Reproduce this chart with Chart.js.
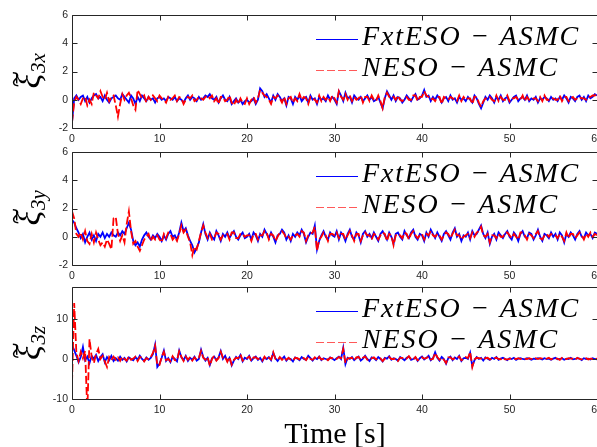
<!DOCTYPE html>
<html>
<head>
<meta charset="utf-8">
<script src="https://cdn.jsdelivr.net/npm/chart.js@4/dist/chart.umd.min.js"></script>
<style>
html,body{margin:0;padding:0;background:#fff;overflow:hidden;width:597px;height:447px;}
canvas{position:absolute;left:0;}
</style>
</head>
<body>
<canvas id="cx" style="top:0px"></canvas>
<canvas id="cy" style="top:140px"></canvas>
<canvas id="cz" style="top:275px"></canvas>
<script>
// ---------- DATA (sampled every 0.25 s, t = 0 … 60 s) ----------
const sampleStep = 0.25;
const xTickValues = [0, 10, 20, 30, 40, 50, 60];
const yTicksXY = [-2, 0, 2, 4, 6];
const yTicksZ = [-10, 0, 10];
const legendLabels = ['FxtESO − ASMC', 'NESO − ASMC'];
const xLabel = 'Time [s]';

const xiX_FxtESO = [
-1.6,0.1,0.3,0.0,0.2,0.3,-0.1,0.2,-0.2,0.1,0.3,0.4,0.1,0.2,-0.1,0.3,0.0,-0.2,0.1,0.2,
0.3,0.1,0.0,0.4,0.2,0.0,-0.2,0.3,0.1,-0.3,0.2,-0.1,0.3,0.1,-0.1,0.2,0.0,0.1,-0.2,0.1,
0.2,0.0,0.1,-0.1,0.2,0.1,0.0,0.2,-0.1,0.1,0.0,-0.2,0.1,0.3,0.0,0.2,0.1,-0.1,0.2,0.0,
0.1,0.3,0.2,0.4,0.1,0.0,0.2,-0.2,0.1,0.3,0.0,-0.1,0.2,-0.3,-0.1,0.1,-0.2,0.0,-0.3,-0.1,
0.0,-0.2,-0.1,0.1,-0.3,0.0,0.8,0.6,0.2,0.4,0.1,-0.2,0.3,0.0,0.4,0.2,-0.1,0.1,-0.4,0.2,
0.1,-0.3,0.2,0.0,0.3,-0.1,0.1,0.2,-0.2,0.3,0.0,0.1,-0.3,0.2,0.0,0.1,-0.1,0.3,0.0,0.2,
0.0,-0.3,0.6,0.3,-0.1,0.5,0.1,0.2,-0.2,0.3,0.1,0.0,0.2,-0.1,0.1,0.3,0.0,0.2,-0.1,0.0,
0.2,-0.2,-0.6,0.1,0.6,0.3,0.0,0.3,-0.1,0.2,0.1,-0.2,0.0,0.3,0.1,-0.1,0.2,0.4,0.0,0.1,
0.3,0.7,0.2,0.3,-0.1,0.2,0.0,0.3,0.1,-0.2,0.1,0.2,-0.1,0.3,0.0,0.1,-0.2,0.2,0.0,0.1,
-0.1,0.2,0.0,-0.2,0.3,0.1,-0.3,-0.6,-0.2,0.2,0.0,0.3,0.1,-0.2,0.2,0.0,0.3,-0.1,0.1,0.2,
-0.2,0.0,0.2,0.3,-0.1,0.1,0.2,0.0,0.3,-0.1,0.1,0.0,0.2,-0.2,0.1,0.0,0.2,0.1,-0.1,0.2,
0.0,0.1,-0.1,0.2,0.0,0.3,0.1,-0.2,0.2,0.1,-0.1,0.2,0.3,0.0,0.2,-0.1,0.3,0.1,0.2,0.4,
0.3];
const xiX_NESO = [
-1.6,-0.2,0.2,0.0,-0.3,0.1,0.2,-0.4,0.0,-0.3,0.5,0.3,0.1,0.6,0.2,0.0,0.5,-0.1,0.2,0.3,
-0.4,-1.2,-0.3,0.4,0.0,0.3,0.5,0.1,-0.4,-0.7,0.7,0.4,0.1,0.3,-0.2,0.2,0.0,0.3,0.1,-0.1,
0.3,0.1,0.0,-0.2,0.2,0.0,0.1,0.3,-0.1,0.2,0.1,-0.3,0.0,0.2,0.1,0.3,-0.1,0.0,0.2,0.1,
0.0,0.2,0.3,0.1,0.3,-0.1,0.1,-0.3,0.2,0.2,-0.1,0.0,0.3,-0.2,-0.4,0.0,-0.3,0.1,-0.2,-0.3,
0.1,-0.3,0.0,0.2,-0.2,0.1,0.7,0.5,0.3,0.2,0.0,-0.3,0.2,0.1,0.3,0.1,-0.2,0.2,-0.3,0.1,
0.2,-0.2,0.1,-0.1,0.4,0.0,0.2,0.1,-0.3,0.2,0.1,0.0,-0.2,0.3,-0.1,0.2,0.0,0.2,-0.1,0.3,
0.1,-0.2,0.6,0.2,0.0,0.4,0.0,0.3,-0.1,0.2,0.0,0.1,0.3,-0.2,0.2,0.2,-0.1,0.3,0.0,-0.1,
0.3,-0.1,-0.6,0.2,0.5,0.2,0.1,0.2,0.0,0.3,0.0,-0.1,0.1,0.2,0.0,0.0,0.3,0.3,-0.1,0.2,
0.2,0.6,0.3,0.2,0.0,0.1,-0.1,0.2,0.2,-0.3,0.2,0.1,0.0,0.2,0.1,0.0,-0.1,0.3,-0.1,0.2,
0.0,0.1,0.1,-0.3,0.2,0.2,-0.2,-0.5,-0.1,0.1,0.1,0.2,0.0,-0.1,0.3,-0.1,0.2,0.0,0.0,0.3,
-0.1,0.1,0.1,0.2,0.0,0.0,0.3,-0.1,0.2,0.0,0.0,0.1,0.1,-0.1,0.2,-0.1,0.3,0.0,0.0,0.1,
0.1,0.0,0.0,0.3,-0.1,0.2,0.2,-0.1,0.1,0.2,0.0,0.1,0.2,0.1,0.1,0.0,0.2,0.2,0.3,0.3,
0.4];

const xiY_FxtESO = [
1.2,1.0,0.6,0.3,-0.1,0.2,-0.4,0.0,0.3,-0.2,0.1,-0.3,0.2,0.0,0.3,-0.1,0.2,0.0,0.3,0.1,
0.0,0.3,0.1,0.4,0.2,0.6,1.0,0.5,-0.3,-0.6,-0.4,-0.7,-0.2,0.1,0.3,0.0,-0.2,0.1,-0.1,0.2,
0.0,-0.3,0.1,-0.2,0.2,0.4,0.0,0.1,-0.2,0.3,1.0,0.4,0.6,0.1,-0.3,-0.6,-1.1,-0.8,-0.4,0.3,
0.9,0.2,-0.2,0.3,0.0,-0.2,0.4,0.1,-0.3,0.2,0.0,0.3,-0.1,0.2,0.4,0.0,-0.2,0.1,0.3,-0.1,
0.0,0.2,-0.2,0.3,0.1,-0.3,0.2,0.0,0.5,0.2,-0.1,0.3,0.0,-0.4,0.1,0.2,0.5,0.3,-0.2,0.1,
-0.3,0.2,0.0,0.3,0.1,0.5,0.2,-0.4,0.0,0.3,0.2,0.8,-0.9,-0.3,0.1,0.4,0.0,-0.2,0.3,0.1,
0.0,0.4,-0.2,0.3,0.1,-0.3,0.2,0.5,0.0,-0.2,0.3,0.1,-0.4,0.2,0.4,0.0,0.2,-0.1,0.3,0.0,
-0.3,0.2,0.4,0.1,-0.2,0.3,0.0,-0.5,0.2,0.3,0.0,-0.2,0.4,0.1,-0.1,0.3,0.5,0.0,-0.2,0.2,
0.1,-0.3,0.3,0.0,0.5,0.2,-0.1,0.3,0.0,-0.3,0.2,0.4,0.1,-0.2,0.3,0.6,0.0,0.2,-0.3,0.1,
0.0,0.3,-0.2,0.4,0.1,0.2,0.5,0.8,0.2,-0.1,0.3,-0.5,0.0,0.2,-0.2,0.3,0.1,-0.1,0.2,0.4,
0.0,-0.2,0.3,0.1,-0.3,0.2,0.4,0.0,-0.1,0.3,0.2,-0.2,0.1,0.5,0.0,-0.3,0.2,0.1,-0.1,0.3,
0.0,0.2,-0.2,0.3,0.1,-0.4,0.2,0.0,0.3,0.1,-0.2,0.2,0.4,0.0,-0.1,0.3,0.1,0.2,-0.1,0.3,
0.2];
const xiY_NESO = [
1.8,1.3,0.2,0.0,0.3,-0.2,0.4,-0.3,-0.5,0.2,-0.4,0.3,-0.2,-0.6,-0.4,-0.7,-0.2,-0.5,-0.9,1.3,
1.4,0.2,-0.3,0.1,-0.4,0.9,1.8,0.4,-0.5,-0.3,-0.7,-1.0,-0.6,-0.2,0.0,0.2,-0.3,0.0,-0.2,0.1,
-0.2,-0.4,0.2,-0.1,0.3,0.2,-0.2,0.0,-0.3,0.2,0.8,0.3,0.5,0.0,-0.4,-1.3,-0.7,-0.9,-0.3,0.3,
0.8,0.3,-0.1,0.2,-0.2,-0.1,0.3,0.2,-0.2,0.1,0.1,0.2,-0.2,0.3,0.3,-0.1,-0.1,0.2,0.2,0.0,
0.1,0.1,-0.3,0.2,0.2,-0.2,0.1,0.1,0.4,0.3,-0.2,0.2,0.1,-0.3,0.0,0.3,0.4,0.2,-0.1,0.0,
-0.2,0.1,0.1,0.2,0.0,0.4,0.3,-0.3,0.1,0.2,0.3,0.7,-1.0,-0.2,0.0,0.3,0.1,-0.3,0.2,0.2,
0.1,0.3,-0.1,0.2,0.2,-0.2,0.1,0.4,0.1,-0.3,0.2,0.2,-0.3,0.1,0.3,0.1,0.1,-0.2,0.2,0.1,
-0.2,0.1,0.3,0.2,-0.3,0.2,0.1,-0.6,0.1,0.2,0.1,-0.1,0.3,0.2,-0.2,0.2,0.4,0.1,-0.1,0.1,
0.2,-0.2,0.2,0.1,0.4,0.1,0.0,0.2,0.1,-0.2,0.1,0.3,0.2,-0.1,0.2,0.5,0.1,0.1,-0.2,0.0,
0.1,0.2,-0.1,0.3,0.0,0.3,0.4,0.7,0.1,0.0,0.2,-0.4,0.1,0.1,-0.1,0.2,0.0,0.0,0.3,0.3,
0.1,-0.1,0.2,0.0,-0.2,0.3,0.3,0.1,-0.2,0.2,0.1,-0.1,0.2,0.4,-0.1,-0.2,0.1,0.2,0.0,0.2,
0.1,0.1,-0.1,0.2,0.0,-0.3,0.3,-0.1,0.2,0.2,-0.1,0.1,0.3,0.1,-0.2,0.2,0.0,0.3,0.0,0.2,
0.1];

const xiZ_FxtESO = [
3.5,2.2,0.8,-0.8,0.5,3.0,-0.3,0.6,-1.0,0.8,0.0,1.0,-0.5,0.5,1.2,-0.8,0.5,-0.3,0.8,-0.5,
0.2,-0.4,0.6,-0.2,0.3,-0.6,0.4,0.0,-0.3,0.5,-0.2,0.8,0.0,-0.5,0.4,-0.2,0.3,1.2,3.6,-2.0,
-1.2,0.3,2.1,-0.5,0.2,-0.8,0.5,0.0,-0.6,2.1,0.4,-0.3,0.8,-0.5,0.3,-0.2,0.6,-0.4,0.0,2.3,
0.5,-0.4,0.3,-1.5,0.2,0.6,-0.3,0.4,2.0,0.0,0.8,-0.5,0.3,-1.6,-0.4,0.5,0.0,1.0,-0.6,0.3,
0.0,0.8,-0.4,0.2,0.6,-0.2,0.3,-0.6,0.4,0.0,0.5,-0.3,1.5,0.2,-0.5,0.3,0.0,0.6,-0.4,0.2,
0.0,-0.6,0.4,0.1,-0.3,0.5,0.0,-0.2,0.8,0.2,-0.4,0.3,0.0,0.6,-0.3,0.2,0.0,-0.2,0.4,0.1,
-0.3,0.2,0.6,0.0,2.8,-1.3,0.3,0.0,0.5,-0.3,0.2,0.6,-0.4,0.1,0.8,0.0,-0.5,0.4,0.2,-0.3,
0.5,0.0,-0.6,0.3,0.1,0.7,-0.2,0.2,0.0,-0.4,0.5,0.1,-0.3,0.3,0.6,-0.2,0.0,0.4,-0.5,0.2,
0.6,-0.1,0.3,0.8,-0.3,0.2,1.7,0.3,-0.4,0.5,0.0,-1.2,0.2,0.6,-0.3,0.4,0.0,0.8,-0.5,0.2,
0.3,0.0,1.6,-1.8,-0.3,0.5,0.0,0.3,-0.4,0.4,0.1,-0.2,0.3,0.0,0.5,-0.2,0.1,0.3,0.0,-0.3,
0.2,0.0,0.3,-0.2,0.1,0.2,0.0,-0.1,0.2,0.1,-0.2,0.1,0.0,0.2,0.1,-0.1,0.2,0.0,0.1,-0.2,
0.1,0.3,-0.1,0.0,0.2,-0.2,0.1,0.0,0.3,-0.1,0.0,0.2,0.1,-0.3,0.2,0.0,0.1,-0.1,0.2,0.0,
-0.1];
const xiZ_NESO = [
-6.0,14.0,1.5,-0.5,1.8,0.2,2.0,-13.0,5.0,0.5,-1.0,1.2,2.5,0.0,0.8,-0.6,-2.0,0.5,-0.3,0.6,
-0.2,0.4,-0.5,0.6,0.0,-0.4,0.7,-0.2,0.1,0.6,-0.5,0.5,0.3,-0.6,0.2,0.0,0.5,1.5,3.3,-1.6,
-1.5,0.5,1.8,-0.3,0.0,-0.6,0.7,-0.3,-0.4,1.9,0.6,-0.5,0.6,-0.2,0.5,-0.4,0.4,-0.2,0.3,2.0,
0.3,-0.2,0.5,-1.7,0.0,0.8,-0.4,0.2,1.8,0.3,0.5,-0.7,0.5,-1.4,-0.2,0.3,0.2,1.2,-0.4,0.1,
0.2,0.6,-0.5,0.4,0.4,0.0,0.1,-0.4,0.6,-0.2,0.3,-0.1,1.7,0.0,-0.3,0.5,-0.2,0.4,-0.2,0.3,
-0.2,-0.4,0.3,0.2,-0.1,0.3,0.2,-0.3,0.6,0.0,-0.2,0.4,-0.2,0.5,-0.1,0.0,0.2,-0.3,0.3,0.2,
-0.1,0.0,0.5,0.2,2.5,-1.0,0.1,0.2,0.3,-0.4,0.4,0.5,-0.2,0.3,0.6,-0.2,-0.3,0.2,0.4,-0.1,
0.3,0.2,-0.5,0.1,0.3,0.5,0.0,0.0,0.2,-0.5,0.3,0.3,-0.1,0.1,0.7,0.0,-0.2,0.5,-0.3,0.0,
0.4,0.1,0.2,0.6,-0.1,0.0,1.5,0.5,-0.2,0.3,-0.2,-1.0,0.4,0.4,-0.1,0.2,0.2,0.6,-0.3,0.0,
0.5,0.2,1.8,-2.0,-0.1,0.3,0.2,0.1,-0.2,0.2,0.3,-0.1,0.1,0.2,0.3,0.0,-0.1,0.4,-0.1,-0.1,
0.0,0.2,0.1,0.0,0.2,0.0,0.2,0.1,0.0,0.2,0.0,-0.1,0.2,0.0,0.2,0.1,0.0,0.1,0.3,-0.1,
0.2,0.1,0.1,-0.2,0.3,0.0,0.0,0.2,0.1,0.1,-0.2,0.3,0.0,-0.1,0.1,0.2,-0.1,0.1,0.0,0.2,
0.0];

// ---------- STYLE ----------
const AXIS_COLOR = '#262626';
const BLUE = '#0000ff';
const RED = '#ff0000';
const CANVAS_W = 620;

function toPoints(vals) {
  return vals.map((v, i) => ({x: i * sampleStep, y: v}));
}

function makePanel(id, height, areaTop, areaBottom, blueVals, redVals, yMin, yMax, yTicks, sub, showXLabel) {
  const cv = document.getElementById(id);
  cv.width = CANVAS_W; cv.height = height;
  cv.style.width = CANVAS_W + 'px'; cv.style.height = height + 'px';

  const plugin = {
    id: 'panelDecor',
    afterDraw(chart) {
      const ctx = chart.ctx, a = chart.chartArea;
      const xs = chart.scales.x, ys = chart.scales.y;
      ctx.save();
      // box
      ctx.strokeStyle = AXIS_COLOR; ctx.lineWidth = 1; ctx.setLineDash([]);
      const L = Math.round(a.left) + 0.5, R = Math.round(a.right) + 0.5;
      const T = Math.round(a.top) + 0.5, B = Math.round(a.bottom) + 0.5;
      ctx.beginPath();
      ctx.moveTo(L, T); ctx.lineTo(R, T); ctx.lineTo(R, B); ctx.lineTo(L, B); ctx.closePath();
      ctx.stroke();
      // inward ticks
      const tl = 5;
      ctx.beginPath();
      xTickValues.forEach(v => {
        const px = Math.round(xs.getPixelForValue(v)) + 0.5;
        ctx.moveTo(px, B); ctx.lineTo(px, B - tl);
        ctx.moveTo(px, T); ctx.lineTo(px, T + tl);
      });
      yTicks.forEach(v => {
        const py = Math.round(ys.getPixelForValue(v)) + 0.5;
        ctx.moveTo(L, py); ctx.lineTo(L + tl, py);
        ctx.moveTo(R, py); ctx.lineTo(R - tl, py);
      });
      ctx.stroke();

      // legend (inside, top right)
      const ds = [chart.data.datasets[0], chart.data.datasets[1]];
      ds.forEach((d, i) => {
        const rowY = Math.round(a.top + 24 + i * 31);
        ctx.save();
        ctx.strokeStyle = d.borderColor;
        ctx.lineWidth = 1;
        ctx.globalAlpha = i === 1 ? 0.65 : 1;
        ctx.setLineDash(d.borderDash || []);
        ctx.beginPath(); ctx.moveTo(316, rowY + 0.5); ctx.lineTo(358, rowY + 0.5); ctx.stroke();
        ctx.restore();
        ctx.save();
        ctx.fillStyle = '#000';
        ctx.font = 'italic 28px "Liberation Serif"';
        ctx.textBaseline = 'alphabetic'; ctx.textAlign = 'left';
        const target = i === 0 ? 218 : 197;
        ctx.letterSpacing = '0px';
        const w0 = ctx.measureText(d.label).width;
        const n = d.label.length;
        ctx.letterSpacing = ((target - w0) / n).toFixed(2) + 'px';
        ctx.fillText(d.label, 362, rowY + 6);
        ctx.restore();
      });

      // y label: tilde xi with subscript
      ctx.save();
      const cy = (a.top + a.bottom) / 2 + 17;
      ctx.translate(40, cy);
      ctx.rotate(-Math.PI / 2);
      ctx.fillStyle = '#000';
      ctx.textBaseline = 'alphabetic'; ctx.textAlign = 'left';
      ctx.font = 'italic 34px "Liberation Serif"';
      ctx.fillText('ξ', 0, 0);
      const wx = ctx.measureText('ξ').width;
      ctx.font = '30px "Liberation Serif"';
      ctx.textAlign = 'center';
      ctx.fillText('~', wx / 2 + 2, -14);
      ctx.textAlign = 'left';
      ctx.font = 'italic 21px "Liberation Serif"';
      ctx.fillText(sub, wx + 1, 5);
      ctx.restore();

      if (showXLabel) {
        ctx.fillStyle = '#000';
        ctx.font = '30px "Liberation Serif"';
        ctx.textAlign = 'center'; ctx.textBaseline = 'alphabetic';
        ctx.fillText(xLabel, 335, a.bottom + 44);
      }
      ctx.restore();
    }
  };

  return new Chart(cv, {
    type: 'line',
    data: {
      datasets: [
        {label: legendLabels[0], data: toPoints(blueVals), borderColor: BLUE, borderWidth: 1.8, order: 1},
        {label: legendLabels[1], data: toPoints(redVals), borderColor: RED, borderWidth: 1.8, borderDash: [8, 3], order: 0}
      ]
    },
    options: {
      responsive: false,
      animation: false,
      events: [],
      devicePixelRatio: 1,
      layout: {padding: {left: 0, top: areaTop, right: CANVAS_W - 597, bottom: 0}},
      elements: {point: {radius: 0}, line: {tension: 0}},
      plugins: {legend: {display: false}, tooltip: {enabled: false}},
      scales: {
        x: {
          type: 'linear', min: 0, max: 60,
          afterBuildTicks: s => { s.ticks = xTickValues.map(v => ({value: v})); },
          afterFit: s => { s.height = height - areaBottom; },
          grid: {display: false, drawTicks: false},
          border: {display: false},
          ticks: {color: AXIS_COLOR, font: {family: '"Liberation Sans", Arial', size: 10.5}, padding: 5, maxRotation: 0, autoSkip: false}
        },
        y: {
          type: 'linear', min: yMin, max: yMax,
          afterBuildTicks: s => { s.ticks = yTicks.map(v => ({value: v})); },
          afterFit: s => { s.width = 72; },
          grid: {display: false, drawTicks: false},
          border: {display: false},
          ticks: {color: AXIS_COLOR, font: {family: '"Liberation Sans", Arial', size: 10.5}, padding: 4}
        }
      }
    },
    plugins: [plugin]
  });
}

makePanel('cx', 148, 15, 128, xiX_FxtESO, xiX_NESO, -2, 6, yTicksXY, '3x', false);
makePanel('cy', 148, 12, 125, xiY_FxtESO, xiY_NESO, -2, 6, yTicksXY, '3y', false);
makePanel('cz', 172, 12, 124, xiZ_FxtESO, xiZ_NESO, -10, 18, yTicksZ, '3z', true);
</script>
</body>
</html>
